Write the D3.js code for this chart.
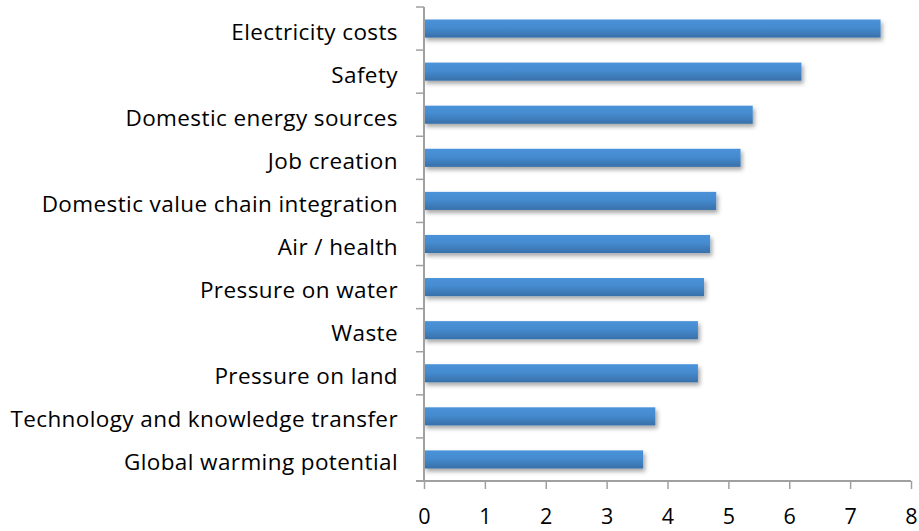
<!DOCTYPE html>
<html>
<head>
<meta charset="utf-8">
<script src="https://cdn.jsdelivr.net/npm/d3@7"></script>
<style>
  html, body { margin: 0; padding: 0; background: #fff; }
  svg { display: block; }
  text { font-family: "Open Sans", Lato, sans-serif; fill: #000; }
</style>
</head>
<body>
<svg id="chart" width="919" height="531"></svg>
<script>
// Categories, listed top to bottom
const categories = [
  "Electricity costs",
  "Safety",
  "Domestic energy sources",
  "Job creation",
  "Domestic value chain integration",
  "Air / health",
  "Pressure on water",
  "Waste",
  "Pressure on land",
  "Technology and knowledge transfer",
  "Global warming potential"
];
const values = [7.5, 6.2, 5.4, 5.2, 4.8, 4.7, 4.6, 4.5, 4.5, 3.8, 3.6];
const xTicks = [0, 1, 2, 3, 4, 5, 6, 7, 8];

const svg = d3.select("#chart");
const margin = { left: 424, top: 7 };

const x = d3.scaleLinear().domain([0, 8]).range([margin.left, 911]);
const y = d3.scaleBand().domain(categories).range([margin.top, 481]).paddingInner(0.58).paddingOuter(0.29);

const defs = svg.append("defs");
const grad = defs.append("linearGradient")
  .attr("id", "barFill").attr("x1", 0).attr("y1", 0).attr("x2", 0).attr("y2", 1);
grad.append("stop").attr("offset", "0%").attr("stop-color", "#4a92d9");
grad.append("stop").attr("offset", "45%").attr("stop-color", "#458bcf");
grad.append("stop").attr("offset", "100%").attr("stop-color", "#3870a9");

const shadow = defs.append("filter").attr("id", "barShadow")
  .attr("x", "-5%").attr("y", "-30%").attr("width", "115%").attr("height", "190%");
shadow.append("feDropShadow")
  .attr("dx", 2).attr("dy", 3).attr("stdDeviation", 2)
  .attr("flood-color", "#000").attr("flood-opacity", 0.35);

// Bars
svg.append("g").selectAll("rect")
  .data(categories)
  .join("rect")
  .attr("x", x(0))
  .attr("y", d => y(d))
  .attr("width", (d, i) => x(values[i]) - x(0))
  .attr("height", y.bandwidth())
  .attr("fill", "url(#barFill)")
  .attr("filter", "url(#barShadow)");

// Category axis: ticks sit on band boundaries
const yAxisG = svg.append("g").attr("class", "y-axis");
const step = y.step();
const bounds = d3.range(categories.length + 1).map(i => margin.top + i * step);
yAxisG.selectAll("line.tick")
  .data(bounds)
  .join("line")
  .attr("x1", x(0) - 8).attr("x2", x(0))
  .attr("y1", d => d).attr("y2", d => d)
  .attr("stroke", "#a0a0a0").attr("stroke-width", 1.5);
yAxisG.append("line")
  .attr("x1", x(0)).attr("x2", x(0))
  .attr("y1", margin.top).attr("y2", 481)
  .attr("stroke", "#a0a0a0").attr("stroke-width", 2);
yAxisG.selectAll("text")
  .data(categories)
  .join("text")
  .attr("x", 398)
  .attr("y", d => y(d) + y.bandwidth() / 2 + 11)
  .attr("text-anchor", "end")
  .attr("font-size", 22.5)
  .attr("letter-spacing", 0.4)
  .text(d => d);

// Value axis
const xAxis = d3.axisBottom(x).tickValues(xTicks).tickSize(8).tickPadding(20).tickFormat(d3.format("d"));
const xAxisG = svg.append("g").attr("transform", "translate(0,481)").call(xAxis);
xAxisG.select(".domain").attr("stroke", "#a0a0a0").attr("stroke-width", 2)
  .attr("d", `M${x(0) - 8},0H${x(8)}`);
xAxisG.selectAll(".tick line").attr("stroke", "#a0a0a0").attr("stroke-width", 1.5);
xAxisG.selectAll(".tick text")
  .attr("font-family", "'Open Sans', Lato, sans-serif")
  .attr("font-size", 21.5)
  .attr("fill", "#000");
</script>
</body>
</html>
